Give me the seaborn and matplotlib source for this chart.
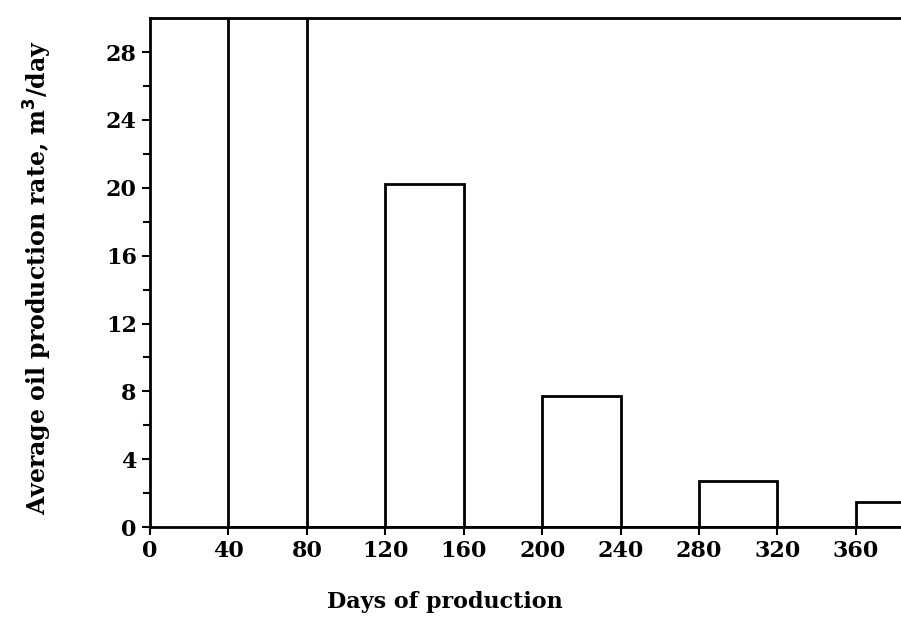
import matplotlib
matplotlib.use("Agg")
import matplotlib.pyplot as plt
import seaborn as sns
import numpy as np
import pandas as pd

# Data (interval start day, interval end day, average rate m3/day)
interval_start = [40, 120, 200, 280, 360]
interval_end = [80, 160, 240, 320, 400]
avg_rate = [40.0, 20.2, 7.7, 2.7, 1.5]
bin_edges = [40, 80, 120, 160, 200, 240, 280, 320, 360, 400]
x_ticks = [0, 40, 80, 120, 160, 200, 240, 280, 320, 360]
y_ticks = [0, 4, 8, 12, 16, 20, 24, 28]

sns.set_theme(style="white")
plt.rcParams['font.family'] = ['DejaVu Serif']
plt.rcParams['font.weight'] = 'bold'
plt.rcParams['text.color'] = 'black'
plt.rcParams['axes.labelcolor'] = 'black'

df = pd.DataFrame({
    "mid": [(a + b) / 2 for a, b in zip(interval_start, interval_end)],
    "rate": avg_rate,
})

fig = plt.figure(figsize=(9.01, 6.26), dpi=100)
ax = fig.add_axes([0.1665, 0.158, 0.8335, 0.813])

sns.histplot(data=df, x="mid", weights="rate", bins=bin_edges, ax=ax,
             color="white", edgecolor="black", linewidth=2.0, alpha=1.0)

ax.set_xlim(0, 383)
ax.set_ylim(0, 30)
ax.set_xticks(x_ticks)
ax.set_yticks(y_ticks)
ax.set_yticks(np.arange(2, 30, 4), minor=True)
ax.tick_params(axis="both", which="both", direction="out", length=6, width=1.5,
               labelsize=16, colors="black", bottom=True, left=True)
ax.tick_params(axis="y", which="minor", length=5)
for lab in ax.get_xticklabels() + ax.get_yticklabels():
    lab.set_fontweight("bold")

for s in ["left", "bottom", "top"]:
    ax.spines[s].set_visible(True)
    ax.spines[s].set_color("black")
    ax.spines[s].set_linewidth(2.0)
ax.spines["right"].set_visible(False)

ax.set_xlabel("Days of production", fontsize=16, fontweight="bold",
              color="black")
ax.xaxis.set_label_coords(0.392, -0.125)
ax.set_ylabel("Average oil production rate, m$^\\mathbf{3}$/day", fontsize=17,
              fontweight="bold", color="black")
ax.yaxis.set_label_coords(-0.128, 0.49)
ax.grid(False)

fig.savefig("out.png", dpi=100)
